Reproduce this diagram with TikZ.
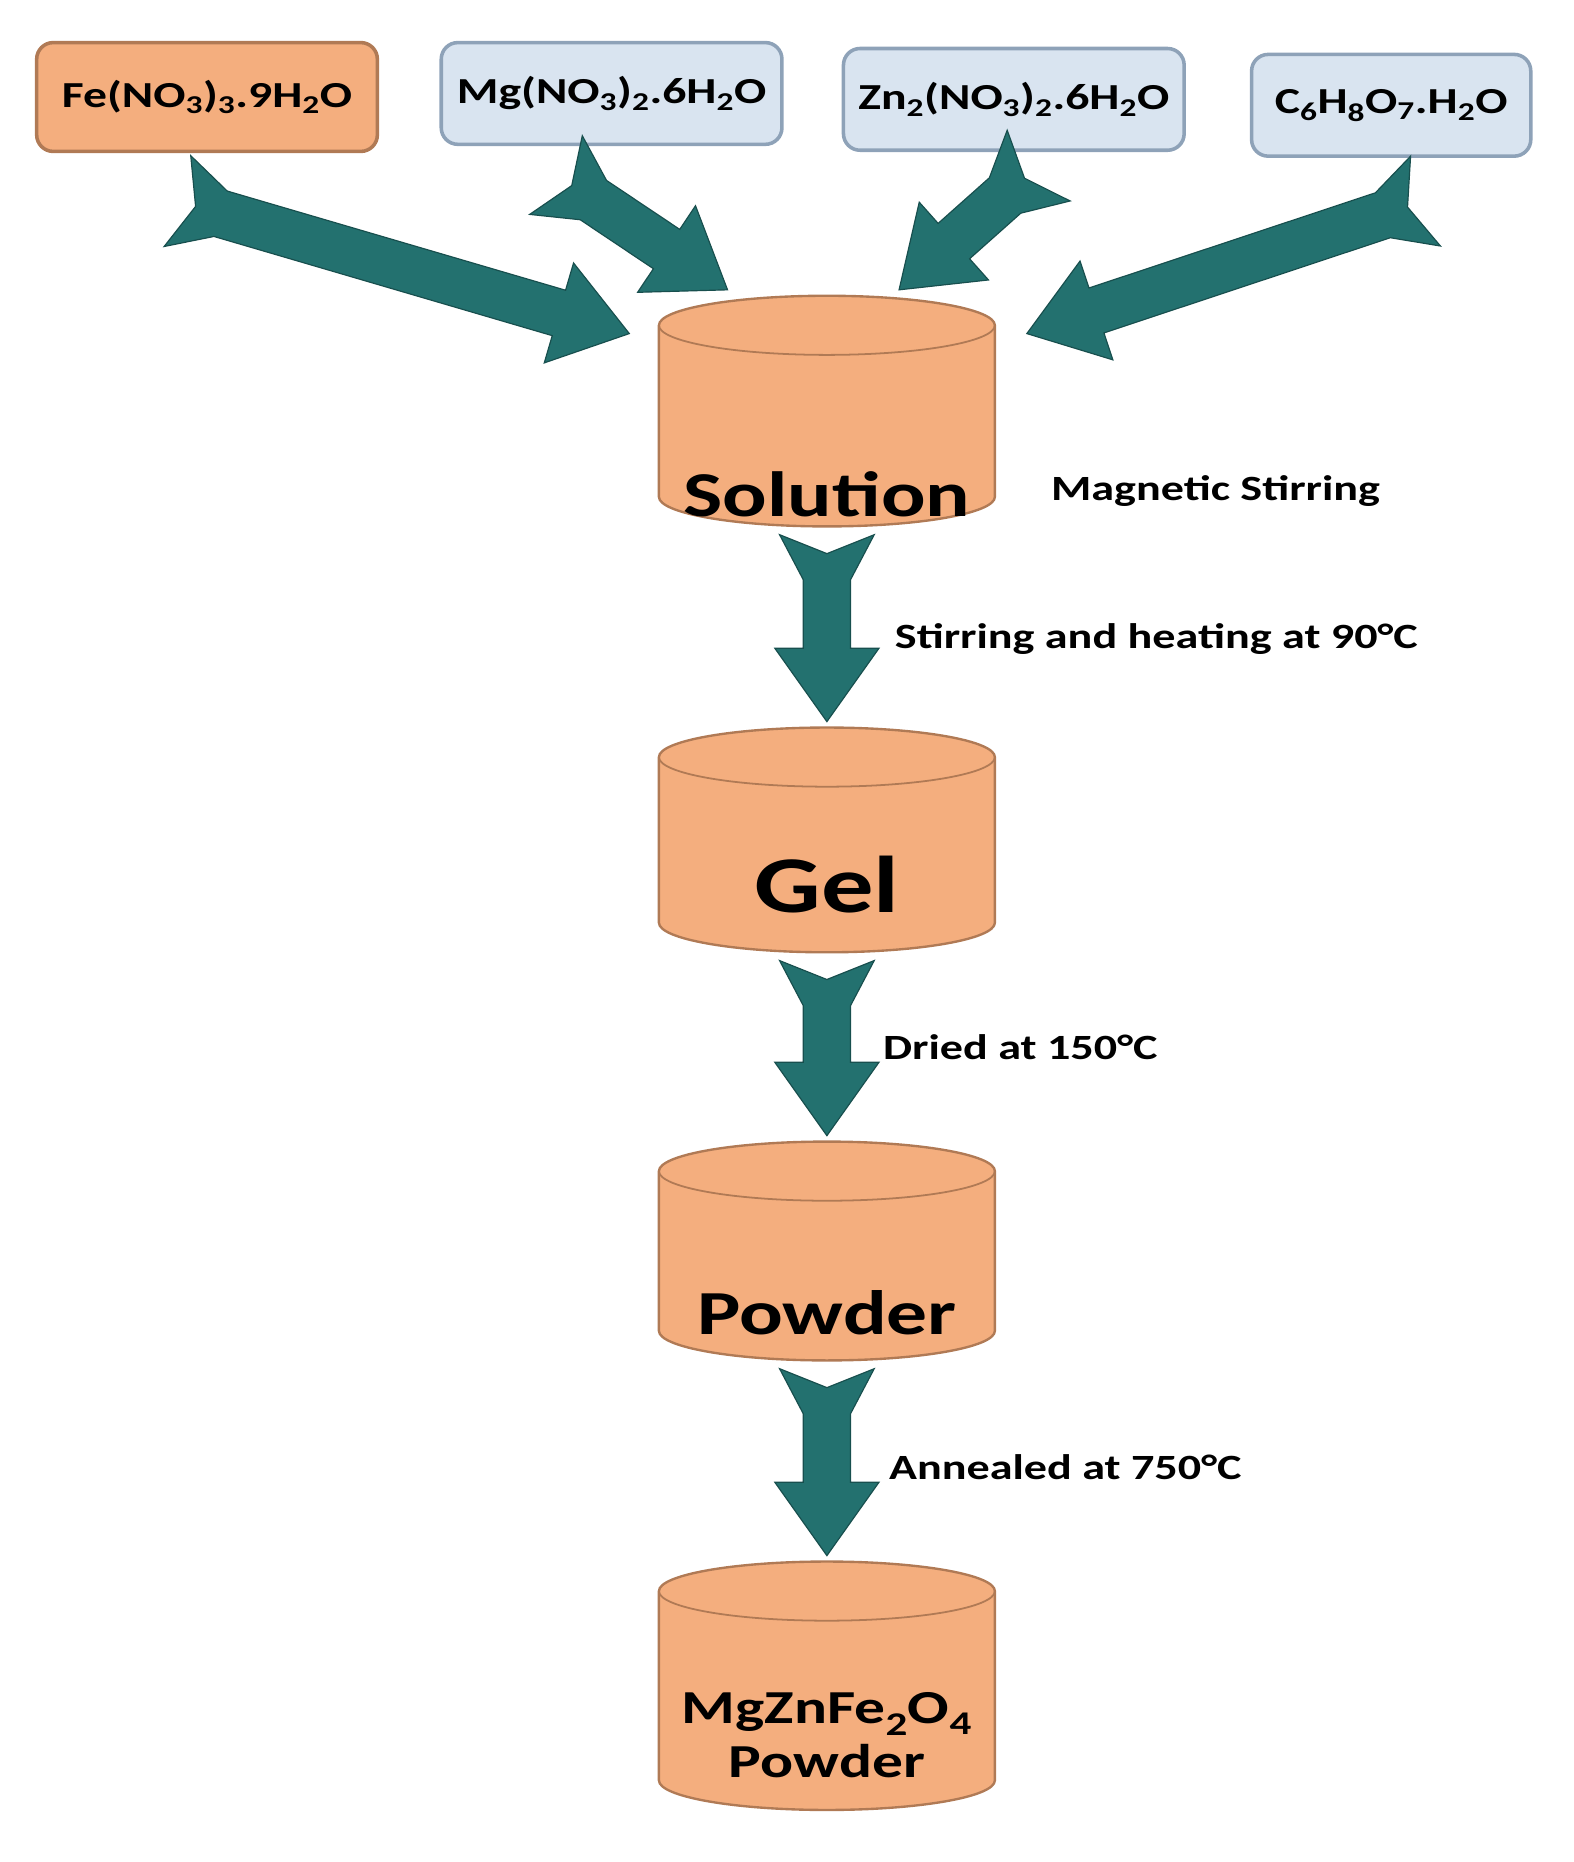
\documentclass[tikz,border=0pt]{standalone}
\usepackage{fontspec}
\setmainfont{Carlito}[FakeStretch=1.3]
\usetikzlibrary{calc}
\definecolor{org}{HTML}{F4AE7E}
\definecolor{orgd}{HTML}{B07A55}
\definecolor{blu}{HTML}{D9E4F0}
\definecolor{blud}{HTML}{8EA2B8}
\definecolor{teal}{HTML}{23716F}
\newcommand\ts[1]{\textsubscript{#1}}
\newcommand\fatar[2]{%
 \path let \p1=(#1),\p2=(#2),\n1={atan2(\y2-\y1,\x2-\x1)},\n2={veclen(\x2-\x1,\y2-\y1)} in \pgfextra{\xdef\fang{\n1}\xdef\flen{\n2}\xdef\fax{\x1}\xdef\fay{\y1}};
 \begin{scope}[shift={(\fax,\fay)},rotate=\fang]
 \fill[teal,draw=teal!70!black,line width=1pt] (0pt,40pt) -- (38pt,20pt) -- ({(\flen-62)*1pt},20pt) -- ({(\flen-62)*1pt},44pt) -- ({\flen*1pt},0pt) -- ({(\flen-62)*1pt},-44pt) -- ({(\flen-62)*1pt},-20pt) -- (38pt,-20pt) -- (0pt,-40pt) -- (16pt,0pt) -- cycle;
 \end{scope}}
\begin{document}
\begin{tikzpicture}[x=1pt,y=-1pt,
 box/.style={draw=#1,line width=3pt,rounded corners=14pt,inner sep=0pt,font=\bfseries\fontsize{31}{33}\selectfont},
 lab/.style={font=\bfseries\fontsize{30}{32}\selectfont,anchor=west}]
\useasboundingbox (0,0) rectangle (1330,1574);
% boxes
\node[box=orgd,fill=org,minimum width=288pt,minimum height=92pt] (fe) at (175,82) {Fe(NO\ts{3})\ts{3}.9H\ts{2}O};
\node[box=blud,fill=blu,minimum width=288pt,minimum height=86pt] (mg) at (517,79) {Mg(NO\ts{3})\ts{2}.6H\ts{2}O};
\node[box=blud,fill=blu,minimum width=288pt,minimum height=86pt] (zn) at (857,84) {Zn\ts{2}(NO\ts{3})\ts{2}.6H\ts{2}O};
\node[box=blud,fill=blu,minimum width=236pt,minimum height=86pt] (c6) at (1176,89) {C\ts{6}H\ts{8}O\ts{7}.H\ts{2}O};
% cylinders
\newcommand\cyl[6]{% name, top y, bottom y, text, font size, text y
 \fill[org,draw=orgd,line width=2pt] (557,#2) -- (557,#3) arc[start angle=180,end angle=0,x radius=142,y radius=25] -- (841,#2) arc[start angle=0,end angle=-180,x radius=142,y radius=25] -- cycle;
 \draw[orgd,line width=1.5pt] (557,#2) arc[start angle=180,end angle=0,x radius=142,y radius=25];
 \node[font=\bfseries\fontsize{#5}{#5}\selectfont,align=center] (#1) at (699,#6) {#4};
 \coordinate (#1t) at (699,{#2-30});
 \coordinate (#1b) at (699,{#3+32});}
\cyl{sol}{275}{420}{Solution}{54}{418}
\cyl{gel}{640}{780}{Gel}{68}{748}
\cyl{pow}{990}{1125}{Powder}{53}{1110}
\cyl{fin}{1345}{1505}{MgZnFe\ts{2}O\ts{4}\\[6pt]Powder}{40}{1467}
% arrows
\coordinate (a1) at (150,170); \coordinate (b1) at (532,282);
\coordinate (a2) at (470,148); \coordinate (b2) at (615,245);
\coordinate (a3) at (878,140); \coordinate (b3) at (760,245);
\coordinate (a4) at (1205,170); \coordinate (b4) at (868,282);
\fatar{a1}{b1}
\fatar{a2}{b2}
\fatar{a3}{b3}
\fatar{a4}{b4}
\fatar{solb}{gelt}
\fatar{gelb}{powt}
\fatar{powb}{fint}
% labels
\node[lab] (l1) at (885,415) {Magnetic Stirring};
\node[lab] (l2) at (753,540) {Stirring and heating at 90\textdegree C};
\node[lab] (l3) at (743,885) {Dried at 150\textdegree C};
\node[lab] (l4) at (748,1240) {Annealed at 750\textdegree C};
\end{tikzpicture}
\end{document}
